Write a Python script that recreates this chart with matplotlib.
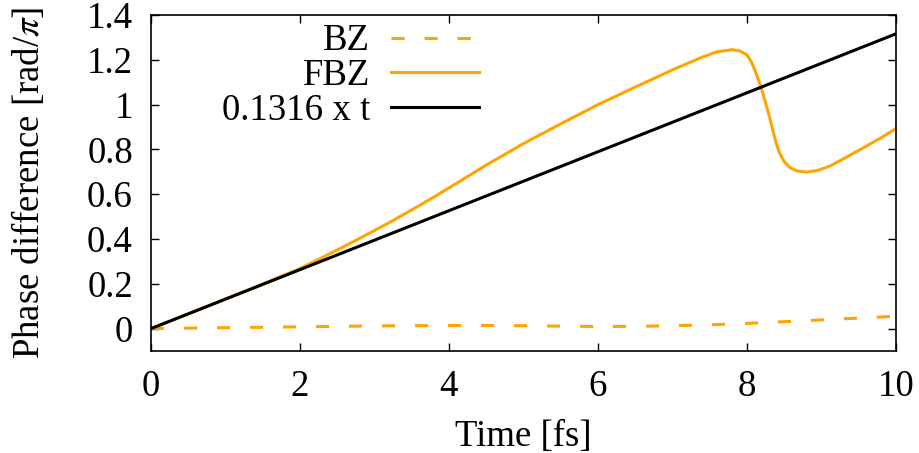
import matplotlib
matplotlib.use("Agg")
import matplotlib.pyplot as plt
from matplotlib.ticker import FuncFormatter

# values
t_bz = [0.0, 0.5, 1.0, 1.5, 2.0, 2.5, 3.0, 3.5, 4.0, 4.5, 5.0, 5.5, 6.0, 6.5,
        7.0, 7.5, 8.0, 8.5, 9.0, 9.5, 10.0]
bz = [0.0, 0.002, 0.004, 0.006, 0.008, 0.010, 0.012, 0.013, 0.014, 0.014,
      0.013, 0.011, 0.009, 0.010, 0.013, 0.017, 0.023, 0.031, 0.039, 0.047,
      0.055]

t_fbz = [0.0, 0.5, 1.0, 1.5, 2.0, 2.25, 2.5, 2.75, 3.0, 3.25, 3.5, 3.75,
         4.0, 4.5, 5.0, 5.5, 6.0,
         6.5, 7.0, 7.4, 7.6, 7.8, 7.9, 8.0, 8.06, 8.12, 8.18, 8.24, 8.29,
         8.34, 8.39, 8.44, 8.5, 8.58, 8.68, 8.8, 8.95, 9.11, 9.35, 9.6, 9.8,
         10.0]
fbz = [0.0, 0.066, 0.132, 0.199, 0.268, 0.309, 0.351, 0.394, 0.438, 0.483,
       0.530, 0.578, 0.628, 0.73,
       0.826, 0.914, 1.0, 1.078, 1.155, 1.212, 1.236, 1.245, 1.240, 1.222,
       1.190, 1.142, 1.085, 1.02, 0.96, 0.895, 0.83, 0.782, 0.745, 0.718,
       0.703, 0.699, 0.706, 0.725, 0.768, 0.814, 0.852, 0.893]

t_fit = [0.0, 10.0]
fit = [0.0, 1.316]

plt.rcParams['font.family'] = ['Liberation Serif', 'DejaVu Serif']
plt.rcParams['mathtext.fontset'] = 'stix'

fig = plt.figure(figsize=(9.2, 4.53), dpi=100)
ax = fig.add_axes([151/920, 1-351/453, (896-151)/920, (351-15)/453])

orange = '#ffa500'
ax.plot(t_bz, bz, color=orange, lw=2.2, dashes=(4.3, 6.5), label='BZ')
ax.plot(t_fbz, fbz, color=orange, lw=2.2, label='FBZ')
ax.plot(t_fit, fit, color='black', lw=2.2, label='0.1316 x t')

ax.set_xlim(0, 10)
ax.set_ylim(-0.1, 1.4)
ax.set_xticks([0, 2, 4, 6, 8, 10])
ax.set_yticks([0, 0.2, 0.4, 0.6, 0.8, 1.0, 1.2, 1.4])
ax.yaxis.set_major_formatter(FuncFormatter(lambda v, p: '%g' % v))
ax.tick_params(direction='in', length=6, width=1, top=True, right=True,
               labelsize=26.5)
ax.tick_params(axis='y', pad=13)
ax.tick_params(axis='x', pad=13.5)
for s in ax.spines.values():
    s.set_linewidth(1.2)

ax.set_xlabel('Time [fs]', fontsize=26.5, labelpad=11)
ax.set_ylabel(r'Phase difference [rad/$\pi$]', fontsize=26.5, labelpad=29)

fig.legend(loc='upper right', bbox_to_anchor=(479/920, 1-24/453),
           frameon=False, markerfirst=False, fontsize=26.5,
           handlelength=2.4, handletextpad=0.55, labelspacing=0.0,
           borderpad=0, borderaxespad=0)

fig.savefig('out.png', dpi=100)
